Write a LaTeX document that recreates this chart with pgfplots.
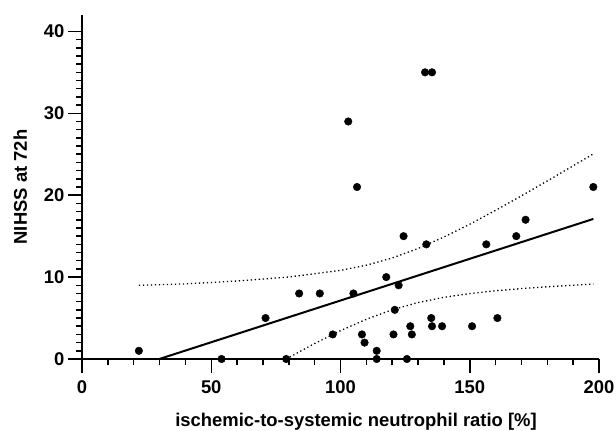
\documentclass[border=0pt]{standalone}
\usepackage{fontspec}
\setmainfont{Liberation Sans}
\usepackage{pgfplots}
\pgfplotsset{compat=1.18}

\begin{document}
\begin{tikzpicture}
% fixed page box: 616 x 431 px, axis corner at px (82,359)
\path[use as bounding box] (-82bp,-72bp) rectangle (534bp,359bp);
\begin{axis}[
    at={(0,0)}, anchor=south west,
    scale only axis,
    width=517bp, height=344bp,
    xmin=0, xmax=200, ymin=0, ymax=42,
    axis x line*=bottom, axis y line*=left,
    axis line style={line width=1.5bp,-},
    xtick={0,50,...,200}, ytick={0,10,...,40},
    minor x tick num=4, minor y tick num=9,
    tick align=outside,
    major tick length=14bp, minor tick length=6bp,
    every tick/.style={black,line width=1.5bp},
    /pgf/number format/assume math mode=true,
    ticklabel style={font=\fontsize{18.5}{22}\selectfont\bfseries},
    xticklabel style={yshift=-4bp},
    label style={font=\fontsize{18.5}{22}\selectfont\bfseries},
    xlabel={ischemic-to-systemic neutrophil ratio [\%]},
    ylabel={NIHSS at 72h},
    xlabel style={at={(axis description cs:0.53,0)}, anchor=base, yshift=-67bp},
    ylabel style={at={(axis description cs:-0.1064,0.5)}, anchor=base},
    clip=false,
]
% confidence band (upper)
\addplot[black, line width=1.3bp, dash pattern=on 1.3bp off 2.7bp] coordinates {
    (22,9.0) (40,9.17) (60,9.52) (80,10.01) (100,10.82) (110,11.45)
    (120,12.33) (130,13.49) (140,14.89) (150,16.45) (160,18.15)
    (170,19.92) (180,21.74) (190,23.59) (197.8,25.04)
};
% confidence band (lower)
\addplot[black, line width=1.3bp, dash pattern=on 1.3bp off 2.7bp] coordinates {
    (79,0) (90,1.89) (100,3.46) (110,4.85) (120,6.01) (130,6.89)
    (140,7.53) (150,7.99) (160,8.33) (170,8.60) (180,8.82)
    (190,9.01) (197.8,9.14)
};
% regression line
\addplot[black, line width=2bp] coordinates {(29.9,0) (197.8,17.1)};
% patients
\addplot[only marks, mark=*, mark size=3.8bp, black] coordinates {
    (22,1) (54,0) (71,5) (79,0) (84,8) (92,8) (97,3) (103,29)
    (105,8) (106.4,21) (108.3,3) (109.3,2) (114,1) (114,0)
    (117.7,10) (120.5,3) (121,6) (122.5,9) (124.4,15) (125.7,0)
    (127,4) (127.6,3) (132.7,35) (133.2,14) (135.1,5) (135.4,4)
    (135.4,35) (139.3,4) (150.9,4) (156.4,14) (160.7,5) (168,15)
    (171.6,17) (197.8,21)
};
\end{axis}
\end{tikzpicture}
\end{document}
